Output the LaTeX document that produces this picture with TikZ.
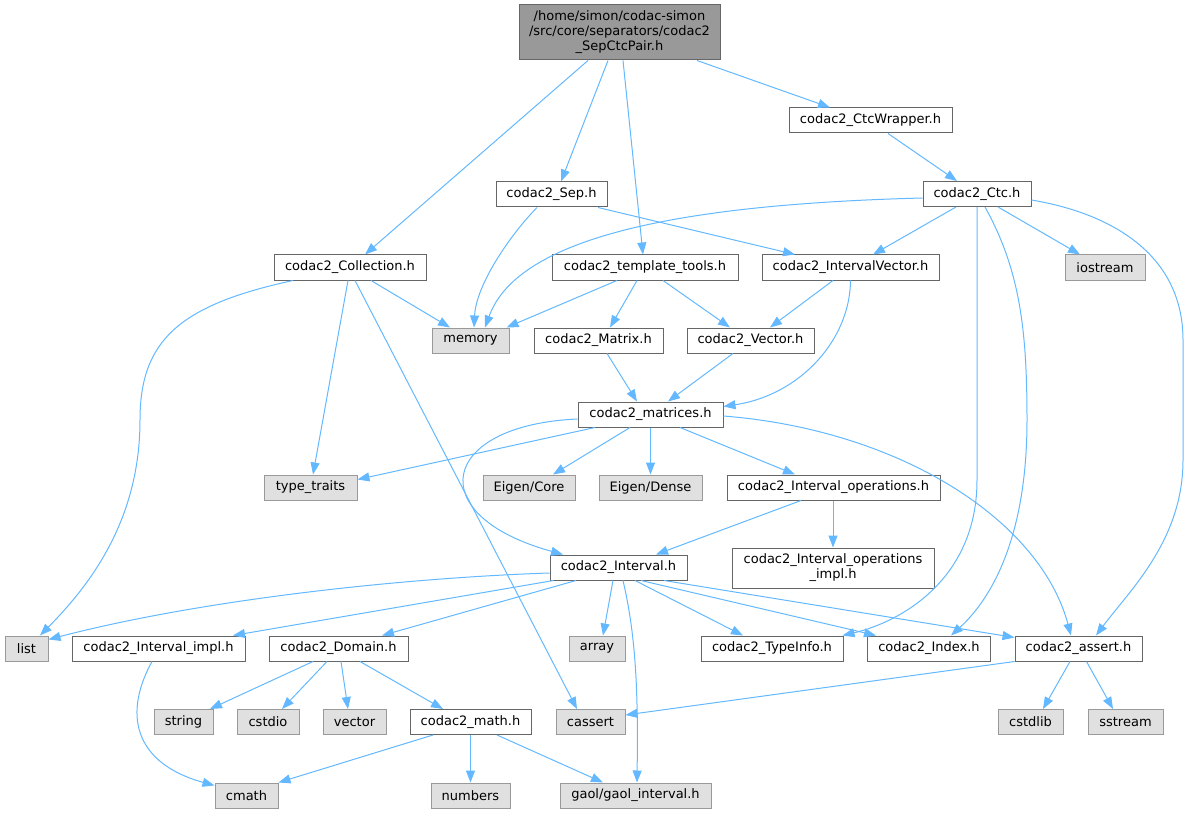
\documentclass[tikz,border=0pt]{standalone}
\usepackage{fontspec}
\setmainfont{DejaVu Sans}
\usetikzlibrary{arrows.meta}
\definecolor{edgec}{HTML}{63B8FF}
\definecolor{bordc}{HTML}{666666}
\definecolor{extb}{HTML}{999999}
\definecolor{extf}{HTML}{E0E0E0}
\definecolor{rootf}{HTML}{999999}
\begin{document}
\begin{tikzpicture}[x=1pt,y=-1pt,
  box/.style={draw=bordc, fill=white, line width=1pt, inner sep=0pt, minimum height=25pt,
    font=\fontsize{13}{15}\selectfont},
  ext/.style={box, draw=extb, fill=extf},
  rootbox/.style={box, fill=rootf, draw=bordc, align=center},
  edge/.style={draw=edgec, line width=1pt, -{Triangle[length=12pt,width=9pt]}}]
\useasboundingbox (0,0) rectangle (1189,813);
% nodes
\node[rootbox, minimum width=201pt, minimum height=55pt] (root) at (619.5,32.5) {/home/simon/codac-simon\\/src/core/separators/codac2\\\_SepCtcPair.h};
\node[box, minimum width=163pt] (wrap) at (870.5,120.5) {codac2\_CtcWrapper.h};
\node[box, minimum width=108pt] (ctc) at (977,194) {codac2\_Ctc.h};
\node[box, minimum width=111pt] (sep) at (551.5,194.5) {codac2\_Sep.h};
\node[box, minimum width=152pt] (coll) at (350,267.5) {codac2\_Collection.h};
\node[box, minimum width=186pt] (tmpl) at (645,267.5) {codac2\_template\_tools.h};
\node[box, minimum width=177pt] (ivec) at (850.5,267.5) {codac2\_IntervalVector.h};
\node[ext, minimum width=80pt] (iostr) at (1105,267.5) {iostream};
\node[ext, minimum width=77pt] (mem) at (470.5,340.5) {memory};
\node[box, minimum width=129pt] (matx) at (598.5,340.5) {codac2\_Matrix.h};
\node[box, minimum width=127pt] (vect) at (750.5,340.5) {codac2\_Vector.h};
\node[box, minimum width=145pt] (mats) at (650.5,414.5) {codac2\_matrices.h};
\node[ext, minimum width=93pt] (ttr) at (310.5,487.5) {type\_traits};
\node[ext, minimum width=92pt] (ecore) at (529,487.5) {Eigen/Core};
\node[ext, minimum width=103pt] (edense) at (650.5,487.5) {Eigen/Dense};
\node[box, minimum width=213pt] (iops) at (833.5,487.5) {codac2\_Interval\_operations.h};
\node[box, minimum width=202pt, minimum height=40pt, align=center] (iopsi) at (833,568) {codac2\_Interval\_operations\\\_impl.h};
\node[box, minimum width=137pt] (itv) at (618.5,567.5) {codac2\_Interval.h};
\node[ext, minimum width=43pt] (lst) at (26.5,648.5) {list};
\node[box, minimum width=173pt] (iimpl) at (158.5,648.5) {codac2\_Interval\_impl.h};
\node[box, minimum width=139pt] (dom) at (338.5,648.5) {codac2\_Domain.h};
\node[ext, minimum width=56pt] (arr) at (597,648.5) {array};
\node[box, minimum width=142pt] (tinfo) at (772,648.5) {codac2\_TypeInfo.h};
\node[box, minimum width=123pt] (idx) at (929,648.5) {codac2\_Index.h};
\node[box, minimum width=127pt] (asrt) at (1078.5,648.5) {codac2\_assert.h};
\node[ext, minimum width=59pt] (str) at (183.5,722) {string};
\node[ext, minimum width=62pt] (cstdio) at (268,722) {cstdio};
\node[ext, minimum width=63pt] (vec) at (354.5,722) {vector};
\node[box, minimum width=121pt] (math) at (470.5,722) {codac2\_math.h};
\node[ext, minimum width=69pt] (cass) at (590.5,722) {cassert};
\node[ext, minimum width=65pt] (cstdl) at (1030.5,722) {cstdlib};
\node[ext, minimum width=75pt] (sstr) at (1125.5,722) {sstream};
\node[ext, minimum width=63pt] (cmath) at (246.5,795.5) {cmath};
\node[ext, minimum width=79pt] (nums) at (470.5,795.5) {numbers};
\node[ext, minimum width=151pt] (gaol) at (635.5,795.5) {gaol/gaol\_interval.h};
% edges
\draw[edge] ([xshift=-31.5pt]root.south) -- ([xshift=15pt]coll.north);
\draw[edge] ([xshift=-11.5pt]root.south) -- ([xshift=9.5pt]sep.north);
\draw[edge] ([xshift=3.5pt]root.south) -- ([xshift=-2pt]tmpl.north);
\draw[edge] ([xshift=77.5pt]root.south) -- ([xshift=-40.5pt]wrap.north);
\draw[edge] ([xshift=17.5pt]wrap.south) -- ([xshift=-20pt]ctc.north);
\draw[edge] ([xshift=-14.5pt]sep.south) .. controls (510,235) and (476,285) .. ([xshift=3.5pt]mem.north);
\draw[edge] ([xshift=46.5pt]sep.south) -- ([xshift=-55.5pt]ivec.north);
\draw[edge] ([yshift=-4pt]ctc.west) .. controls (650,205) and (515,245) .. ([xshift=14.5pt]mem.north);
\draw[edge] ([xshift=-21pt]ctc.south) -- ([xshift=22.5pt]ivec.north);
\draw[edge] ([xshift=21pt]ctc.south) -- ([xshift=-25pt]iostr.north);
\draw[edge] (ctc.south) -- (977,480) .. controls (977,580) and (900,622) .. ([xshift=-1pt]tinfo.north east);
\draw[edge] ([xshift=8pt]ctc.south) .. controls (1020,270) and (1027,330) .. (1027,420) .. controls (1027,540) and (990,600) .. ([xshift=22pt]idx.north);
\draw[edge] ([yshift=-6pt]ctc.east) .. controls (1120,215) and (1183,260) .. (1183,340) -- (1183,460) .. controls (1183,540) and (1130,590) .. ([xshift=17.5pt]asrt.north);
\draw[edge] ([xshift=-17.5pt]ivec.south) -- ([xshift=19.5pt]vect.north);
\draw[edge] (ivec.south) .. controls (850,340) and (800,395) .. ([yshift=8pt]mats.east);
\draw[edge] ([xshift=-57pt]coll.south) .. controls (180,305) and (140,340) .. (140,420) .. controls (140,520) and (90,585) .. ([xshift=13.5pt]lst.north);
\draw[edge] ([xshift=-2pt]coll.south) -- ([xshift=2.5pt]ttr.north);
\draw[edge] ([xshift=5pt]coll.south) -- ([xshift=-13.5pt]cass.north);
\draw[edge] ([xshift=21pt]coll.south) -- ([xshift=-20.5pt]mem.north);
\draw[edge] ([xshift=-28pt]tmpl.south) -- ([xshift=-3pt]mem.north east);
\draw[edge] ([xshift=-8pt]tmpl.south) -- ([xshift=11.5pt]matx.north);
\draw[edge] ([xshift=18pt]tmpl.south) -- ([xshift=-20.5pt]vect.north);
\draw[edge] ([xshift=8.5pt]matx.south) -- ([xshift=-13.5pt]mats.north);
\draw[edge] ([xshift=-17.5pt]vect.south) -- ([xshift=17.5pt]mats.north);
\draw[edge] ([xshift=-55.5pt]mats.south) -- ([yshift=-5pt]ttr.north east);
\draw[edge] ([xshift=-20.5pt]mats.south) -- ([xshift=24pt]ecore.north);
\draw[edge] (mats.south) -- (edense.north);
\draw[edge] ([xshift=29.5pt]mats.south) -- ([xshift=-38.5pt]iops.north);
\draw[edge] ([yshift=-4.5pt]mats.west) .. controls (440,425) and (420,515) .. ([xshift=-55.5pt]itv.north);
\draw[edge] ([yshift=-1.5pt]mats.east) .. controls (900,430) and (1040,520) .. ([xshift=-7.5pt]asrt.north);
\draw[edge] ([xshift=-32.5pt]iops.south) -- ([xshift=37.5pt]itv.north);
\draw[edge] ([xshift=-0.5pt]iops.south) -- (iopsi.north);
\draw[edge] ([yshift=-5.5pt]itv.west) .. controls (400,578) and (200,600) .. ([yshift=-4pt]lst.north east);
\draw[edge] ([xshift=-65pt]itv.south) -- ([xshift=74.5pt]iimpl.north);
\draw[edge] ([xshift=-42.5pt]itv.south) -- ([xshift=43.5pt]dom.north);
\draw[edge] ([xshift=-5.5pt]itv.south) -- ([xshift=6pt]arr.north);
\draw[edge] ([xshift=4.5pt]itv.south) .. controls (637,640) and (638,700) .. ([xshift=1.5pt]gaol.north);
\draw[edge] ([xshift=16.5pt]itv.south) -- ([xshift=-29pt]tinfo.north);
\draw[edge] ([xshift=22.5pt]itv.south) -- ([xshift=-53pt]idx.north);
\draw[edge] ([xshift=45.5pt]itv.south) -- ([yshift=-2pt]asrt.north west);
\draw[edge] ([xshift=-6.5pt]iimpl.south) .. controls (120,720) and (140,765) .. ([yshift=-3pt]cmath.north west);
\draw[edge] ([xshift=-25.5pt]dom.south) -- ([xshift=26.5pt]str.north);
\draw[edge] ([xshift=-11.5pt]dom.south) -- ([xshift=14pt]cstdio.north);
\draw[edge] ([xshift=2.5pt]dom.south) -- ([xshift=-6.5pt]vec.north);
\draw[edge] ([xshift=21.5pt]dom.south) -- ([xshift=-27.5pt]math.north);
\draw[edge] ([xshift=-37.5pt]math.south) -- (cmath.north east);
\draw[edge] (math.south) -- (nums.north);
\draw[edge] ([xshift=26.5pt]math.south) -- ([xshift=-32.5pt]gaol.north);
\draw[edge] (asrt.south west) -- ([yshift=-6pt]cass.north east);
\draw[edge] ([xshift=-8.5pt]asrt.south) -- ([xshift=12.5pt]cstdl.north);
\draw[edge] ([xshift=8pt]asrt.south) -- ([xshift=-12.5pt]sstr.north);
\end{tikzpicture}
\end{document}
